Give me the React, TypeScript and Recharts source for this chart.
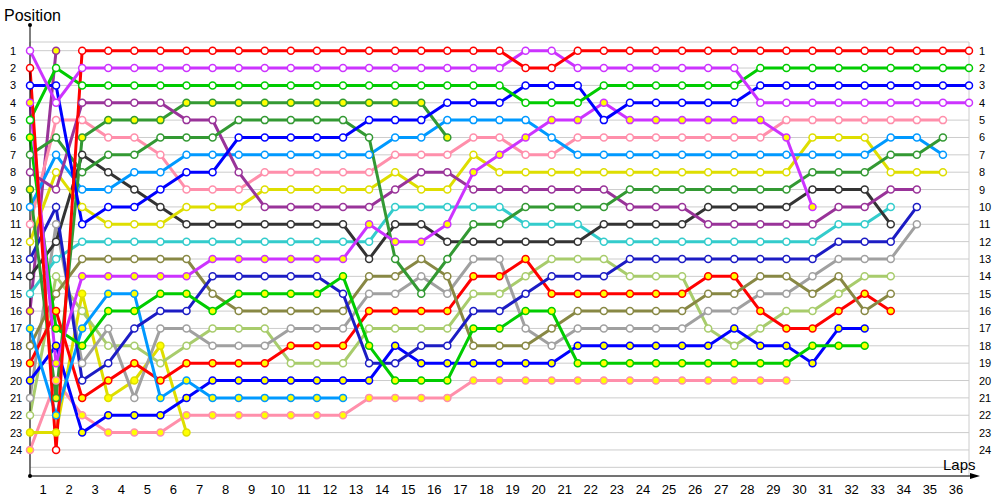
import { LineChart, Line, XAxis, YAxis, CartesianGrid } from 'recharts'

// lap numbers where positions were recorded (0 = grid)
const laps = [
  0, 1, 2, 3, 4, 5, 6, 7, 8, 9, 10, 11, 12, 13, 14, 15, 16, 17, 18,
  19, 20, 21, 22, 23, 24, 25, 26, 27, 28, 29, 30, 31, 32, 33, 34, 35, 36
]
const lapLabels = [
  '1', '2', '3', '4', '5', '6', '7', '8', '9', '10', '11', '12', '13', '14', '15', '16', '17', '18',
  '19', '20', '21', '22', '23', '24', '25', '26', '27', '28', '29', '30', '31', '32', '33', '34', '35', '36'
]
const rows = [1, 2, 3, 4, 5, 6, 7, 8, 9, 10, 11, 12, 13, 14, 15, 16, 17, 18, 19, 20, 21, 22, 23, 24, 25]

const _ = null

// position per lap, one array per car (null = not running)
const red = [
  2, 24, 1, 1, 1, 1, 1, 1, 1, 1,
  1, 1, 1, 1, 1, 1, 1, 1, 1, 2,
  2, 1, 1, 1, 1, 1, 1, 1, 1, 1,
  1, 1, 1, 1, 1, 1, 1
]
const violet = [
  1, 4, 2, 2, 2, 2, 2, 2, 2, 2,
  2, 2, 2, 2, 2, 2, 2, 2, 2, 1,
  1, 2, 2, 2, 2, 2, 2, 2, 4, 4,
  4, 4, 4, 4, 4, 4, 4
]
const green = [
  5, 2, 3, 3, 3, 3, 3, 3, 3, 3,
  3, 3, 3, 3, 3, 3, 3, 3, 3, 4,
  4, 4, 3, 3, 3, 3, 3, 3, 2, 2,
  2, 2, 2, 2, 2, 2, 2
]
const blue = [
  3, 3, 11, 10, 10, 9, 8, 8, 6, 6,
  6, 6, 6, 5, 5, 5, 4, 4, 4, 3,
  3, 3, 5, 4, 4, 4, 4, 4, 3, 3,
  3, 3, 3, 3, 3, 3, 3
]
const violet2 = [
  4, 19, 14, 14, 14, 14, 14, 13, 13, 13,
  13, 13, 13, 11, 12, 12, 11, 8, 7, 6,
  5, 5, 4, 5, 5, 5, 5, 5, 5, 6,
  10, _, _, _, _, _, _
]
const green2 = [
  6, 17, 18, 16, 16, 15, 15, 16, 15, 15,
  15, 15, 14, 18, 20, 20, 20, 17, 17, 16,
  16, 19, 19, 19, 19, 19, 19, 19, 19, 19,
  18, 18, 18, _, _, _, _
]
const darkGreen = [
  7, 6, 8, 7, 7, 6, 6, 6, 5, 5,
  5, 5, 5, 6, 13, 15, 13, 11, 11, 10,
  10, 10, 10, 9, 9, 9, 9, 9, 9, 9,
  8, 8, 8, 7, 7, 6, _
]
const darkPurple = [
  8, 9, 4, 4, 4, 4, 5, 5, 8, 10,
  10, 10, 10, 10, 9, 8, 8, 9, 9, 9,
  9, 9, 9, 10, 10, 10, 11, 11, 11, 11,
  11, 10, 10, 9, 9, _, _
]
const darkGreen2 = [
  9, 21, 6, 5, 5, 5, 4, 4, 4, 4,
  4, 4, 4, 4, 4, 4, 6, _, _, _,
  _, _, _, _, _, _, _, _, _, _,
  _, _, _, _, _, _, _
]
const lightBlue = [
  10, 7, 9, 9, 8, 8, 7, 7, 7, 7,
  7, 7, 7, 7, 6, 6, 5, 5, 5, 5,
  6, 7, 7, 7, 7, 7, 7, 7, 7, 7,
  7, 7, 7, 6, 6, 7, _
]
const pink = [
  11, 5, 5, 6, 6, 7, 9, 9, 9, 8,
  8, 8, 8, 8, 7, 7, 7, 6, 6, 7,
  7, 6, 6, 6, 6, 6, 6, 6, 6, 5,
  5, 5, 5, 5, 5, 5, _
]
const yellow = [
  12, 8, 10, 11, 11, 11, 10, 10, 10, 9,
  9, 9, 9, 9, 8, 9, 9, 7, 8, 8,
  8, 8, 8, 8, 8, 8, 8, 8, 8, 8,
  6, 6, 6, 8, 8, 8, _
]
const darkBlue = [
  13, 10, 20, 19, 17, 16, 16, 14, 14, 14,
  14, 14, 15, 19, 19, 18, 18, 16, 16, 15,
  14, 14, 14, 13, 13, 13, 13, 13, 13, 13,
  13, 12, 12, 12, 10, _, _
]
const black = [
  14, 12, 7, 8, 9, 10, 11, 11, 11, 11,
  11, 11, 11, 13, 11, 11, 12, 12, 12, 12,
  12, 12, 11, 11, 11, 11, 10, 10, 10, 10,
  9, 9, 9, 11, _, _, _
]
const cyan = [
  15, 13, 12, 12, 12, 12, 12, 12, 12, 12,
  12, 12, 12, 12, 10, 10, 10, 10, 10, 11,
  11, 11, 12, 12, 12, 12, 12, 12, 12, 12,
  12, 11, 11, 10, _, _, _
]
const darkPurple2 = [
  16, 1, _, _, _, _, _, _, _, _,
  _, _, _, _, _, _, _, _, _, _,
  _, _, _, _, _, _, _, _, _, _,
  _, _, _, _, _, _, _
]
const lightBlue2 = [
  17, 22, 17, 15, 15, 21, 20, 21, 21, 21,
  21, 21, 21, _, _, _, _, _, _, _,
  _, _, _, _, _, _, _, _, _, _,
  _, _, _, _, _, _, _
]
const olive = [
  18, 15, 13, 13, 13, 13, 13, 15, 16, 16,
  16, 16, 16, 14, 14, 13, 14, 18, 18, 18,
  17, 16, 16, 16, 16, 16, 15, 15, 14, 14,
  15, 14, 16, 15, _, _, _
]
const red2 = [
  19, 16, 21, 20, 19, 20, 19, 19, 19, 19,
  18, 18, 18, 16, 16, 16, 16, 14, 14, 13,
  15, 15, 15, 15, 15, 15, 14, 14, 16, 17,
  17, 16, 15, 16, _, _, _
]
const blue2 = [
  20, 18, 23, 22, 22, 22, 21, 20, 20, 20,
  20, 20, 20, 20, 18, 19, 19, 19, 19, 19,
  19, 18, 18, 18, 18, 18, 18, 17, 18, 18,
  19, 17, 17, _, _, _, _
]
const gray = [
  21, 11, 19, 17, 21, 17, 17, 18, 18, 18,
  17, 17, 17, 15, 15, 14, 15, 13, 13, 17,
  18, 17, 17, 17, 17, 17, 16, 16, 15, 15,
  14, 13, 13, 13, 11, _, _
]
const lightGreen = [
  22, 14, 16, 18, 18, 19, 18, 17, 17, 17,
  19, 19, 19, 17, 17, 17, 17, 15, 15, 14,
  13, 13, 13, 14, 14, 14, 17, 18, 17, 16,
  16, 15, 14, 14, _, _, _
]
const yellow2 = [
  23, 23, 15, 21, 20, 18, 23, _, _, _,
  _, _, _, _, _, _, _, _, _, _,
  _, _, _, _, _, _, _, _, _, _,
  _, _, _, _, _, _, _
]
const pink2 = [
  24, 20, 22, 23, 23, 23, 22, 22, 22, 22,
  22, 22, 22, 21, 21, 21, 21, 20, 20, 20,
  20, 20, 20, 20, 20, 20, 20, 20, 20, 20,
  _, _, _, _, _, _, _
]

// filled-marker cars are plotted against the right-hand axis (same scale as the left one)
const cars = [
  { key: 'pink2', color: '#ff8fab', filled: true, values: pink2 },
  { key: 'yellow2', color: '#dede00', filled: true, values: yellow2 },
  { key: 'lightGreen', color: '#a8cc6c', filled: false, values: lightGreen },
  { key: 'gray', color: '#a0a0a0', filled: false, values: gray },
  { key: 'blue2', color: '#0000ff', filled: true, values: blue2 },
  { key: 'red2', color: '#ff0000', filled: true, values: red2 },
  { key: 'olive', color: '#888844', filled: false, values: olive },
  { key: 'lightBlue2', color: '#0099ff', filled: true, values: lightBlue2 },
  { key: 'darkPurple2', color: '#993399', filled: true, values: darkPurple2 },
  { key: 'cyan', color: '#33cccc', filled: false, values: cyan },
  { key: 'black', color: '#333333', filled: false, values: black },
  { key: 'darkBlue', color: '#1c1cc4', filled: false, values: darkBlue },
  { key: 'yellow', color: '#dede00', filled: false, values: yellow },
  { key: 'pink', color: '#ff8fab', filled: false, values: pink },
  { key: 'lightBlue', color: '#0099ff', filled: false, values: lightBlue },
  { key: 'darkGreen2', color: '#339933', filled: true, values: darkGreen2 },
  { key: 'darkPurple', color: '#993399', filled: false, values: darkPurple },
  { key: 'darkGreen', color: '#339933', filled: false, values: darkGreen },
  { key: 'green2', color: '#00cc00', filled: true, values: green2 },
  { key: 'violet2', color: '#cc33ff', filled: true, values: violet2 },
  { key: 'blue', color: '#0000ff', filled: false, values: blue },
  { key: 'green', color: '#00cc00', filled: false, values: green },
  { key: 'violet', color: '#cc33ff', filled: false, values: violet },
  { key: 'red', color: '#ff0000', filled: false, values: red }
]

const data = laps.map((lap, i) => {
  const row: Record<string, number | null> = { lap }
  cars.forEach(c => {
    row[c.key] = c.values[i]
  })
  return row
})

const labelTicks = lapLabels.map((_l, i) => laps[i] + 0.5)
const font = '"Liberation Sans", Arial, sans-serif'

const LeftTick = (props: any) => {
  const { x, y, payload } = props
  if (payload.value > 24) return <g />
  return (
    <text x={x - 18} y={y} dy={4} fontSize={11} fontFamily={font} fill="#000">
      {payload.value}
    </text>
  )
}

const RightTick = (props: any) => {
  const { x, y, payload } = props
  if (payload.value > 24) return <g />
  return (
    <text x={x + 8} y={y} dy={4} fontSize={11} fontFamily={font} fill="#000">
      {payload.value}
    </text>
  )
}

const BottomTick = (props: any) => {
  const { x, y, payload } = props
  return (
    <text x={x} y={y + 16} textAnchor="middle" fontSize={13} fontFamily={font} fill="#000">
      {String(payload.value + 0.5)}
    </text>
  )
}

export default function App() {
  return (
    <div style={{ position: 'absolute', left: 0, top: 0, width: 1000, height: 500, background: '#fff' }}>
      <LineChart
        width={1000}
        height={500}
        data={data}
        margin={{ top: 42, right: 0, bottom: 0, left: 0 }}
      >
        <CartesianGrid stroke="#cccccc" strokeWidth={1} />
        <XAxis
          xAxisId={0}
          dataKey="lap"
          type="number"
          domain={[0, 36]}
          ticks={laps}
          interval={0}
          tick={false}
          tickLine={false}
          axisLine={false}
          height={0}
        />
        <XAxis
          xAxisId="lbl"
          type="number"
          domain={[0, 36]}
          ticks={labelTicks}
          interval={0}
          tick={BottomTick}
          tickLine={false}
          tickSize={0}
          axisLine={{ stroke: '#000' }}
          height={24}
        />
        <YAxis
          yAxisId={0}
          type="number"
          domain={[0.5, 25.5]}
          reversed
          ticks={rows}
          interval={0}
          tick={LeftTick}
          tickLine={false}
          tickSize={0}
          axisLine={{ stroke: '#000' }}
          width={30}
        />
        <YAxis
          yAxisId="r"
          orientation="right"
          type="number"
          domain={[0.5, 25.5]}
          reversed
          ticks={rows}
          interval={0}
          tick={RightTick}
          tickLine={false}
          tickSize={0}
          axisLine={false}
          width={31}
        />
        {cars.map(c => (
          <Line
            key={c.key}
            dataKey={c.key}
            yAxisId={c.filled ? 'r' : 0}
            type="linear"
            stroke={c.color}
            strokeWidth={3}
            dot={{ r: 3.5, fill: c.filled ? '#ffff00' : '#ffffff', stroke: c.color, strokeWidth: 1.5 }}
            activeDot={false}
            connectNulls={false}
            isAnimationActive={false}
          />
        ))}
      </LineChart>
      <svg
        width={1000}
        height={500}
        style={{ position: 'absolute', left: 0, top: 0, pointerEvents: 'none' }}
      >
        <line x1={30} y1={25} x2={30} y2={42} stroke="#000" strokeWidth={1} />
        <circle cx={30} cy={25} r={2} fill="#000" />
        <circle cx={30} cy={476} r={2} fill="#000" />
        <line x1={969} y1={476} x2={972} y2={476} stroke="#000" strokeWidth={1} />
        <polygon points="970,473 980,476 970,479" fill="#000" />
        <text x={4} y={21} fontSize={16} fontFamily={font} fill="#000">Position</text>
        <text x={943} y={470} fontSize={15} fontFamily={font} fill="#000">Laps</text>
      </svg>
    </div>
  )
}
